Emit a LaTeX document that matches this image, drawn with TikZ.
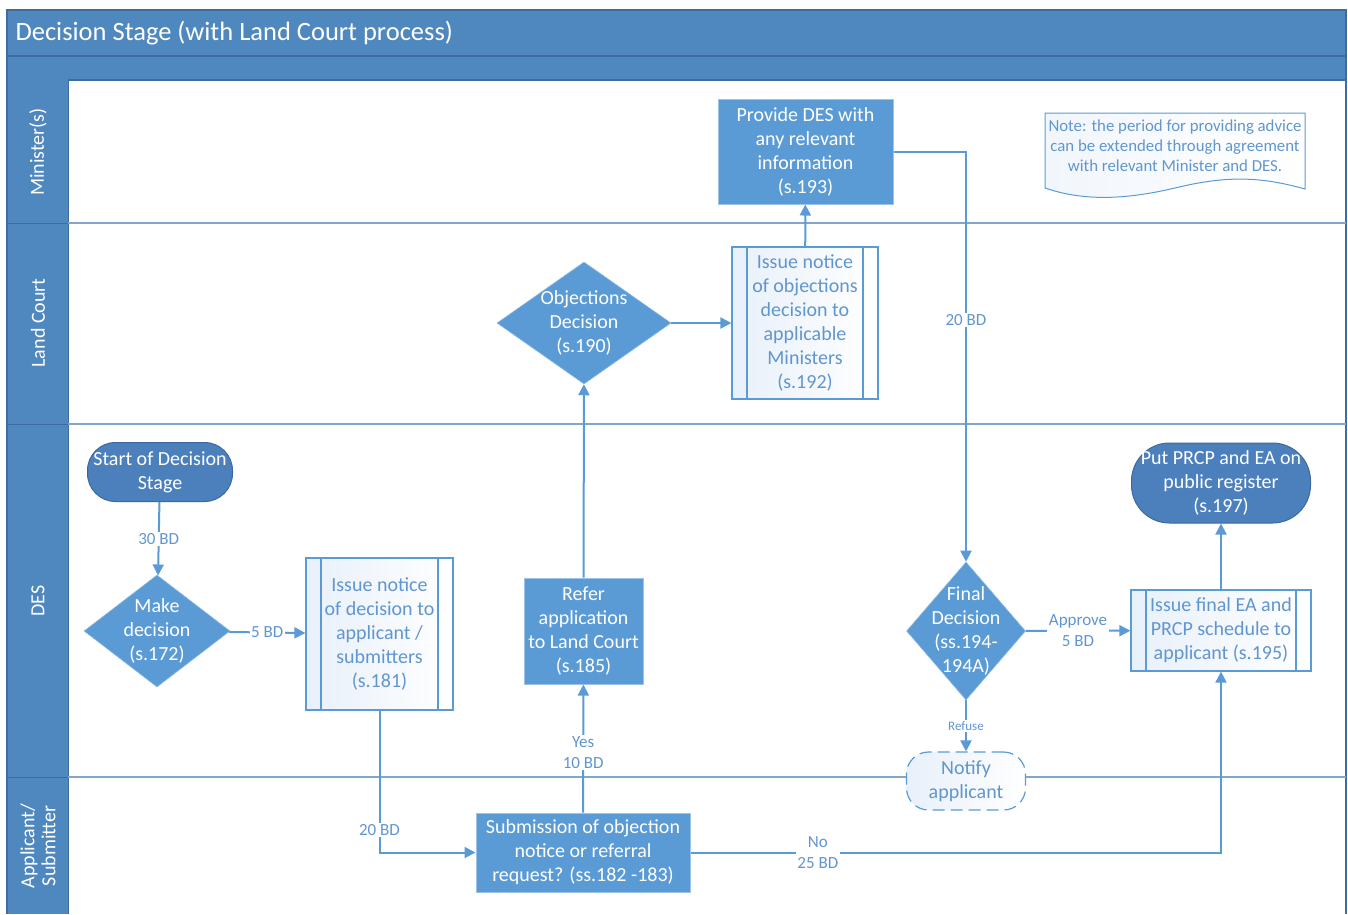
\documentclass[tikz,border=0pt]{standalone}
\usepackage{fontspec}
\setmainfont{Carlito}
\usetikzlibrary{arrows.meta,shapes.geometric}

\definecolor{headblue}{RGB}{79,136,190}
\definecolor{framecol}{RGB}{62,108,158}
\definecolor{laneline}{RGB}{128,166,206}
\definecolor{nodeblue}{RGB}{91,155,213}
\definecolor{termblue}{RGB}{76,128,188}
\definecolor{termedge}{RGB}{60,104,158}
\definecolor{boxtext}{RGB}{96,150,208}
\definecolor{boxtint}{RGB}{232,240,250}

\tikzset{
  boxfont/.style={font=\fontsize{20}{24}\selectfont},
  terminal/.style={boxfont, rounded corners=28pt, fill=termblue, draw=termedge, line width=1pt, text=white, align=center, inner sep=0pt},
  procbox/.style={boxfont, rectangle, fill=nodeblue, draw=nodeblue!60!white, line width=1pt, text=white, align=center, inner sep=0pt},
  decide/.style={diamond, fill=nodeblue, draw=nodeblue!70!white, line width=0.6pt, inner sep=0pt},
  dtext/.style={boxfont, text=white, align=center},
  subproc/.style={boxfont, rectangle, left color=boxtint, right color=white, draw=nodeblue, line width=1.2pt, text=boxtext, align=center, inner sep=0pt,
    path picture={
      \draw[nodeblue, line width=1.2pt] ([xshift=15pt]path picture bounding box.north west) -- ([xshift=15pt]path picture bounding box.south west);
      \draw[nodeblue, line width=1.2pt] ([xshift=-15pt]path picture bounding box.north east) -- ([xshift=-15pt]path picture bounding box.south east);
    }},
  flow/.style={nodeblue, line width=2pt, -{Triangle[length=11pt,width=11pt]}},
  lbl/.style={font=\fontsize{17}{21}\selectfont, text=boxtext, fill=white, align=center, inner sep=1.5pt},
  lanetxt/.style={font=\fontsize{20}{22}\selectfont, text=white, rotate=90, align=center}
}

\begin{document}
\begin{tikzpicture}[x=1pt,y=1pt,yscale=-1,xscale=1]
\useasboundingbox (0,0) rectangle (1348,914);
\fill[white] (0,0) rectangle (1348,914);

%Pool: header and lanes
\fill[headblue] (7,10) rectangle (1346,80);
\fill[headblue] (7,80) rectangle (68,914);
\draw[framecol, line width=1.2pt] (7,56) -- (1346,56);
\draw[framecol, line width=1.2pt] (68,80) -- (1346,80);
\draw[framecol, line width=1.5pt] (7,914) -- (7,10) -- (1346,10) -- (1346,914);
\draw[framecol, line width=1pt] (68,80) -- (68,914);
%Straight Lines: lane separators
\draw[laneline, line width=2pt] (68,223) -- (1346,223);
\draw[laneline, line width=2pt] (68,424) -- (1346,424);
\draw[laneline, line width=2pt] (68,777) -- (1346,777);
\draw[framecol, line width=1pt] (7,223) -- (68,223);
\draw[framecol, line width=1pt] (7,424) -- (68,424);
\draw[framecol, line width=1pt] (7,777) -- (68,777);

%Text: title and lane names
\node[anchor=west, text=white, font=\fontsize{26.5}{30}\selectfont] (title) at (12,33) {Decision Stage (with Land Court process)};
\node[lanetxt] (laneMin) at (38,152) {Minister(s)};
\node[lanetxt] (laneLC) at (38,323) {Land Court};
\node[lanetxt] (laneDES) at (38,601) {DES};
\node[lanetxt, font=\fontsize{20}{21}\selectfont] (laneApp) at (38,846) {Applicant/\\Submitter};

%Shape: Terminators
\node[terminal, minimum width=145pt, minimum height=59pt] (start) at (160,472) {Start of Decision\\Stage};
\node[terminal, rounded corners=38pt, minimum width=179pt, minimum height=80pt] (put) at (1221,483) {Put PRCP and EA on\\public register\\(s.197)};

%Shape: Decisions
\node[decide, minimum width=146pt, minimum height=112pt, label={[dtext]center:Make\\decision\\(s.172)}] (make) at (157,631) {};
\node[decide, minimum width=174pt, minimum height=122pt, label={[dtext]center:Objections\\Decision\\(s.190)}] (objdec) at (584,323) {};
\node[decide, minimum width=119pt, minimum height=138pt, label={[dtext]center:Final\\Decision\\(ss.194-\\194A)}] (final) at (966,631) {};

%Shape: Processes
\node[procbox, minimum width=175pt, minimum height=105pt] (provide) at (805.5,151.5) {Provide DES with\\any relevant\\information\\(s.193)};
\node[procbox, minimum width=119pt, minimum height=106pt] (refer) at (583.5,631) {Refer\\application\\to Land Court\\(s.185)};
\node[procbox, minimum width=214pt, minimum height=79pt] (sub) at (583,852.5) {Submission of objection\\notice or referral\\request? (ss.182 -183)};

%Shape: Predefined processes
\node[subproc, minimum width=147pt, minimum height=152pt] (n181) at (379.5,634) {Issue notice\\of decision to\\applicant /\\submitters\\(s.181)};
\node[subproc, minimum width=146pt, minimum height=152pt] (n192) at (805,323) {Issue notice\\of objections\\decision to\\applicable\\Ministers\\(s.192)};
\node[subproc, minimum width=180pt, minimum height=81pt] (n195) at (1221,630.5) {Issue final EA and\\PRCP schedule to\\applicant (s.195)};

%Shape: Notify (dashed)
\node[boxfont, rounded corners=22pt, left color=boxtint, right color=white, draw=nodeblue, line width=1.2pt, dash pattern={on 12pt off 6pt}, text=boxtext, align=center, inner sep=0pt, minimum width=119pt, minimum height=58pt] (notify) at (966,781) {Notify\\applicant};

%Shape: Note (document)
\draw[nodeblue, line width=1pt, left color=boxtint!60, right color=white] (1045,113) -- (1305,113) -- (1305,189) .. controls (1262,177) and (1228,175) .. (1175,188) .. controls (1120,201) and (1080,200) .. (1045,188) -- cycle;
\node[font=\fontsize{16.8}{20}\selectfont, text=boxtext, align=center] (note) at (1175,146) {Note: the period for providing advice\\can be extended through agreement\\with relevant Minister and DES.};

%Connectors
\draw[flow] (start) -- node[lbl] {30 BD} (make);
\draw[flow] (make) -- node[lbl] {5 BD} (n181);
\draw[flow] (n181) |- node[lbl, pos=0.42] {20 BD} (sub);
\draw[flow] (sub) -- node[lbl, pos=0.47] {Yes\\10 BD} (refer);
\draw[flow] (refer) -- (objdec);
\draw[flow] (objdec) -- (n192);
\draw[flow] (n192) -- (provide);
\draw[flow] (provide.east) -| node[lbl, pos=0.705] {20 BD} (final.north);
\draw[flow] (final) -- node[lbl] {Approve\\5 BD} (n195);
\draw[flow] (final) -- node[lbl, font=\fontsize{13}{15}\selectfont] {Refuse} (notify);
\draw[flow] (sub) -| node[lbl, pos=0.12] {No\\25 BD} (n195);
\draw[flow] (n195) -- (put);

\end{tikzpicture}
\end{document}
